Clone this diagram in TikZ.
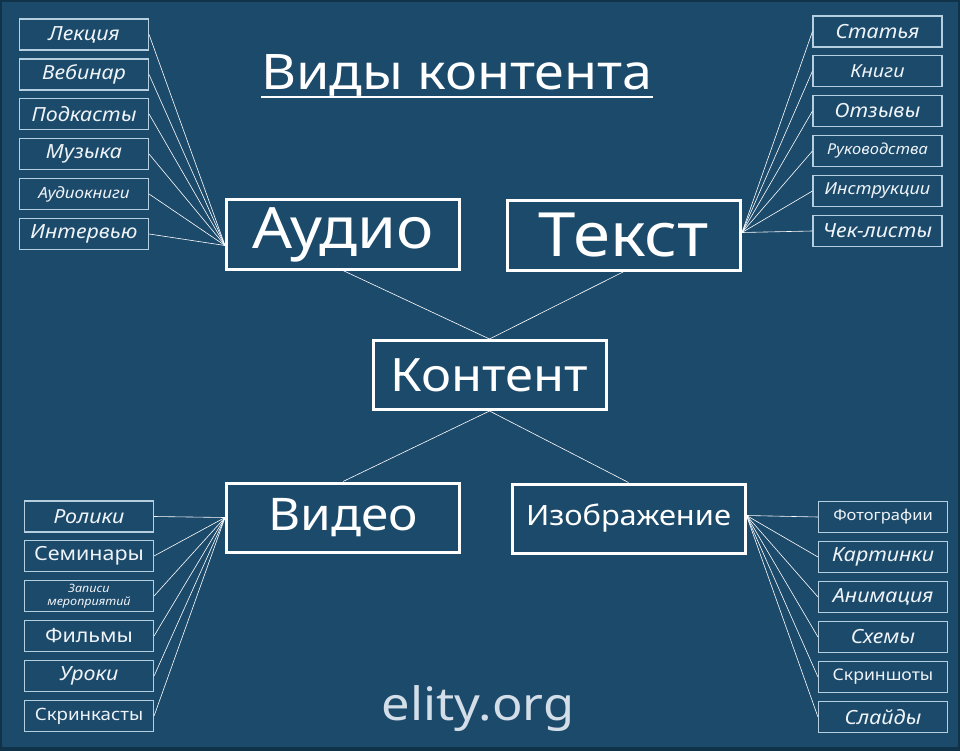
\documentclass[tikz,border=0pt]{standalone}
\usepackage{fontspec}
\setmainfont[FakeStretch=1.1]{Noto Sans}
\usetikzlibrary{calc}
\definecolor{bg}{HTML}{1C4A6B}
\definecolor{bgdark}{HTML}{11334A}
\definecolor{sbord}{HTML}{B5CEE0}
\definecolor{stext}{HTML}{EEF3F7}
\definecolor{foot}{HTML}{D3DEE8}
\newcommand{\fs}[1]{\fontsize{#1}{#1}\selectfont}
\begin{document}
\begin{tikzpicture}[x=1pt,y=-1pt,
  sbox/.style={draw=sbord,line width=1.1pt,minimum width=129pt,minimum height=31pt,
    inner sep=0pt,text=stext,font=\fs{19.5}\itshape,align=center},
  up/.style={font=\fs{19.5}},
  bbox/.style={draw=white,line width=3pt,minimum width=233pt,minimum height=69pt,
    inner sep=0pt,text=white},
  link/.style={draw=white,line width=0.6pt}]
\fill[bgdark] (0,0) rectangle (960,751);
\fill[bg] (2,2) rectangle (958,747);
\useasboundingbox (0,0) rectangle (960,751);

% title
\node[text=white,inner sep=0pt,font=\fs{49}] (title) at (457,75) {Виды контента};
\draw[white,line width=2pt] ($(title.base west)+(0,8)$) -- ($(title.base east)+(0,8)$);

% main boxes
\node[bbox,font=\fs{57}] (audio) at (343,234.5) {Аудио};
\node[bbox,font=\fs{61}] (text) at (624,235.5) {Текст};
\node[bbox,font=\fs{46}] (content) at (489.5,375) {Контент};
\node[bbox,font=\fs{45}] (video) at (343,517.5) {Видео};
\node[bbox,font=\fs{28}] (image) at (628.5,518.5) {Изображение};

\draw[link] (audio.south) -- (content.north);
\draw[link] (text.south) -- (content.north);
\draw[link] (content.south) -- (video.north);
\draw[link] (content.south) -- (image.north);

% convergence points
\coordinate (ain) at ($(audio.west)+(0,11)$);
\coordinate (tin) at ($(text.east)+(0,-3)$);
\coordinate (vin) at (video.west);
\coordinate (iin) at ($(image.east)+(0,-3)$);

% audio list
\node[sbox] (a1) at (84,34.5) {Лекция};
\node[sbox] (a2) at (84,74.5) {Вебинар};
\node[sbox] (a3) at (84,114) {Подкасты};
\node[sbox] (a4) at (84,154) {Музыка};
\node[sbox,font=\fs{15.5}\itshape] (a5) at (84,194) {Аудиокниги};
\node[sbox] (a6) at (84,234) {Интервью};
\foreach \n in {a1,a2,a3,a4,a5,a6} \draw[link] (\n.east) -- (ain);

% text list
\node[sbox] (t1) at (877.5,31.5) {Статья};
\node[sbox,font=\fs{18}\itshape] (t2) at (877.5,71) {Книги};
\node[sbox] (t3) at (877.5,111) {Отзывы};
\node[sbox,font=\fs{15}\itshape] (t4) at (877.5,151) {Руководства};
\node[sbox,font=\fs{16.5}\itshape] (t5) at (877.5,191) {Инструкции};
\node[sbox] (t6) at (877.5,231) {Чек-листы};
\foreach \n in {t1,t2,t3,t4,t5,t6} \draw[link] (\n.west) -- (tin);

% video list
\node[sbox] (v1) at (89,516.5) {Ролики};
\node[sbox,up] (v2) at (89,556) {Семинары};
\node[sbox,font=\fs{11.5}\itshape] (v3) at (89,596) {Записи\\[1pt]мероприятий};
\node[sbox,up] (v4) at (89,636) {Фильмы};
\node[sbox] (v5) at (89,676) {Уроки};
\node[sbox,font=\fs{17}] (v6) at (89,716) {Скринкасты};
\foreach \n in {v1,v2,v3,v4,v5,v6} \draw[link] (\n.east) -- (vin);

% image list
\node[sbox,font=\fs{15}] (i1) at (883,517) {Фотографии};
\node[sbox] (i2) at (883,557) {Картинки};
\node[sbox] (i3) at (883,597) {Анимация};
\node[sbox] (i4) at (883,637) {Схемы};
\node[sbox,font=\fs{16}] (i5) at (883,677) {Скриншоты};
\node[sbox] (i6) at (883,717) {Слайды};
\foreach \n in {i1,i2,i3,i4,i5,i6} \draw[link] (\n.west) -- (iin);

% footer
\node[text=foot,inner sep=0pt,font=\fs{46}] (foot) at (478,709) {elity.org};
\end{tikzpicture}
\end{document}
